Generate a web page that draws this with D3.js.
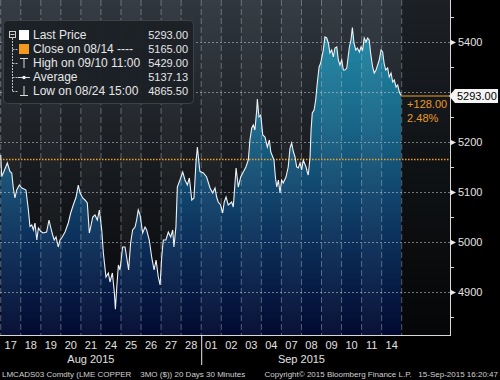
<!DOCTYPE html>
<html>
<head>
<meta charset="utf-8">
<script src="https://cdn.jsdelivr.net/npm/d3@7"></script>
<style>
    body { margin: 0; background: #000; }
    svg { display: block; }
    text { font-family: "Liberation Sans", Arial, sans-serif; }
</style>
</head>
<body>
<svg id="chart" width="500" height="380"></svg>
<script>
// LME copper 3M, 30 minute bars over 20 trading days
var days = ["17", "18", "19", "20", "21", "24", "25", "26", "27", "28",
    "01", "02", "03", "04", "07", "08", "09", "10", "11", "14"];
var months = [["Aug 2015", 4.5], ["Sep 2015", 15]];
var yTicks = [4900, 5000, 5100, 5200, 5300, 5400];
var yMinor = [4850, 4950, 5050, 5150, 5250, 5350, 5450];

// [trading day offset, price]
var prices = [
    [0, 5174], [0.05, 5131], [0.16, 5141], [0.33, 5158], [0.46, 5141], [0.55, 5138], [0.63, 5108], [0.71, 5088],
    [0.80, 5104], [0.93, 5114], [1.05, 5108], [1.16, 5106], [1.26, 5104], [1.38, 5064], [1.46, 5031], [1.55, 5034],
    [1.63, 5024], [1.71, 5038], [1.80, 5004], [1.88, 5028], [2.00, 5021], [2.12, 5018], [2.29, 5020], [2.41, 5044],
    [2.49, 5030], [2.59, 5014], [2.67, 5004], [2.76, 5010], [2.87, 4990], [2.96, 5004], [3.04, 5008], [3.21, 5020],
    [3.37, 5038], [3.49, 5058], [3.62, 5074], [3.76, 5090], [3.87, 5114], [3.96, 5098], [4.09, 5088], [4.20, 5084],
    [4.32, 5078], [4.42, 5018], [4.49, 5030], [4.59, 5050], [4.70, 5054], [4.82, 5044], [4.92, 5064], [5.04, 5024],
    [5.12, 4978], [5.25, 4930], [5.37, 4938], [5.45, 4920], [5.57, 4938], [5.67, 4898], [5.72, 4865.5], [5.79, 4910],
    [5.87, 4954], [5.95, 4944], [6.08, 4990], [6.20, 4990], [6.28, 4970], [6.38, 4944], [6.48, 4998], [6.58, 5024],
    [6.70, 5030], [6.78, 5044], [6.86, 5064], [6.95, 5054], [7.08, 5018], [7.20, 5030], [7.28, 5024], [7.41, 5004],
    [7.53, 4970], [7.65, 4944], [7.75, 4964], [7.86, 4930], [7.95, 4914], [8.03, 4970], [8.11, 5004], [8.24, 5004],
    [8.36, 5020], [8.48, 5010], [8.58, 5024], [8.64, 4990], [8.74, 5030], [8.81, 5110], [8.94, 5124], [9.08, 5140],
    [9.19, 5124], [9.31, 5114], [9.41, 5128], [9.53, 5084], [9.64, 5088], [9.74, 5160], [9.81, 5190], [9.91, 5150],
    [9.94, 5141], [10.11, 5138], [10.27, 5130], [10.44, 5108], [10.57, 5098], [10.69, 5108], [10.77, 5090], [10.85, 5080],
    [10.97, 5074], [11.07, 5058], [11.15, 5080], [11.24, 5090], [11.35, 5074], [11.52, 5080], [11.60, 5070], [11.74, 5148],
    [11.85, 5110], [11.97, 5130], [12.10, 5140], [12.23, 5150], [12.35, 5164], [12.43, 5204], [12.52, 5228], [12.60, 5234],
    [12.68, 5224], [12.77, 5264], [12.80, 5286], [12.88, 5250], [12.97, 5254], [13.07, 5214], [13.18, 5210], [13.30, 5190],
    [13.40, 5204], [13.47, 5180], [13.57, 5170], [13.63, 5164], [13.70, 5130], [13.77, 5110], [13.85, 5124], [13.93, 5098],
    [14.01, 5124], [14.09, 5118], [14.23, 5130], [14.34, 5150], [14.43, 5188], [14.51, 5198], [14.60, 5180], [14.68, 5170],
    [14.76, 5150], [14.84, 5148], [14.93, 5158], [15.01, 5144], [15.09, 5164], [15.23, 5150], [15.29, 5140], [15.34, 5134],
    [15.43, 5170], [15.48, 5224], [15.54, 5258], [15.63, 5264], [15.71, 5284], [15.79, 5318], [15.88, 5350], [15.96, 5358],
    [16.02, 5370], [16.09, 5384], [16.17, 5410], [16.26, 5408], [16.34, 5398], [16.42, 5378], [16.51, 5384], [16.59, 5370],
    [16.67, 5388], [16.76, 5390], [16.84, 5364], [16.92, 5354], [17.01, 5364], [17.09, 5344], [17.17, 5344], [17.26, 5348],
    [17.39, 5390], [17.47, 5404], [17.54, 5429], [17.62, 5398], [17.71, 5384], [17.79, 5388], [17.89, 5380], [17.97, 5390],
    [18.05, 5384], [18.13, 5408], [18.22, 5400], [18.30, 5408], [18.38, 5404], [18.45, 5378], [18.55, 5350], [18.63, 5338],
    [18.72, 5344], [18.80, 5354], [18.88, 5364], [18.97, 5384], [19.05, 5380], [19.12, 5358], [19.20, 5344], [19.30, 5348],
    [19.38, 5330], [19.47, 5338], [19.55, 5320], [19.63, 5324], [19.72, 5310], [19.80, 5314], [19.88, 5300], [19.97, 5293]
];

var legendRows = [
    ["Last Price", "5293.00"],
    ["Close on 08/14 ----", "5165.00"],
    ["High on 09/10 11:00", "5429.00"],
    ["Average", "5137.13"],
    ["Low on 08/24 15:00", "4865.50"]
];
var lastPrice = 5293, prevClose = 5165;

var svg = d3.select("#chart"),
    plotW = 450, plotH = 335;

var x = d3.scaleLinear().domain([0, days.length]).range([0.7, 401.7]);
var y = d3.scaleLinear().domain([4814, 5484]).range([plotH, 0]);

var defs = svg.append("defs");
function vgrad(id, stops, y2) {
    var g = defs.append("linearGradient").attr("id", id)
        .attr("gradientUnits", "userSpaceOnUse")
        .attr("x1", 0).attr("x2", 0).attr("y1", 0).attr("y2", y2);
    stops.forEach(function (s) {
        g.append("stop").attr("offset", s[0]).attr("stop-color", s[1]);
    });
}
vgrad("bg", [[0, "#2f363e"], [0.55, "#15181c"], [1, "#050608"]], plotH);
vgrad("bgEmpty", [[0, "#1c2025"], [0.5, "#0f1215"], [1, "#050607"]], plotH);
vgrad("fill", [[0, "#2393ae"], [0.35, "#19698a"], [0.7, "#0c325d"], [1, "#020930"]], plotH);

var g = svg.append("g");

// backgrounds
g.append("rect").attr("x", 0).attr("y", 0).attr("width", x(days.length)).attr("height", plotH)
    .attr("fill", "url(#bg)");
g.append("rect").attr("x", x(days.length)).attr("y", 0).attr("width", plotW - x(days.length)).attr("height", plotH)
    .attr("fill", "url(#bgEmpty)");

// area under the price line
var area = d3.area()
    .x(function (d) { return x(d[0]); })
    .y0(plotH)
    .y1(function (d) { return y(d[1]); });
var line = d3.line()
    .x(function (d) { return x(d[0]); })
    .y(function (d) { return y(d[1]); });

g.append("path").datum(prices).attr("d", area).attr("fill", "url(#fill)");

// alternating day bands
g.append("g").selectAll("rect")
    .data(days.filter(function (d, i) { return i % 2 == 0; }))
    .enter().append("rect")
    .attr("x", function (d) { return x(days.indexOf(d)); })
    .attr("y", 0)
    .attr("width", x(1) - x(0))
    .attr("height", plotH)
    .attr("fill", "#fff")
    .attr("opacity", 0.035);

// grid
g.append("g").selectAll("line")
    .data(d3.range(days.length + 1))
    .enter().append("line")
    .attr("x1", function (d) { return x(d); })
    .attr("x2", function (d) { return x(d); })
    .attr("y1", 0).attr("y2", plotH)
    .attr("stroke", "#b8bec6").attr("stroke-opacity", 0.45)
    .attr("stroke-dasharray", "6,3");
g.append("g").selectAll("line")
    .data(yTicks)
    .enter().append("line")
    .attr("x1", 0).attr("x2", plotW)
    .attr("y1", function (d) { return y(d) + 0.5; })
    .attr("y2", function (d) { return y(d) + 0.5; })
    .attr("stroke", "#c8ccd2").attr("stroke-opacity", 0.55)
    .attr("stroke-dasharray", "2,2");

// previous close (dotted orange)
g.append("line")
    .attr("x1", 0).attr("x2", plotW)
    .attr("y1", y(prevClose)).attr("y2", y(prevClose))
    .attr("stroke", "#f0a020").attr("stroke-width", 1.5)
    .attr("stroke-dasharray", "1.5,1.5");

// price line
g.append("path").datum(prices).attr("d", line)
    .attr("fill", "none").attr("stroke", "#eef2f5").attr("stroke-width", 1.1);

// last price marker
var lastX = x(prices[prices.length - 1][0]);
g.append("line")
    .attr("x1", lastX).attr("x2", plotW)
    .attr("y1", y(lastPrice) + 0.5).attr("y2", y(lastPrice) + 0.5)
    .attr("stroke", "#f0a020").attr("stroke-width", 1);
g.append("text").attr("x", lastX + 6).attr("y", y(lastPrice) + 12)
    .attr("fill", "#e89a28").attr("font-size", 11)
    .text("+" + (lastPrice - prevClose).toFixed(2));
g.append("text").attr("x", lastX + 6).attr("y", y(lastPrice) + 26)
    .attr("fill", "#e89a28").attr("font-size", 11)
    .text(((lastPrice - prevClose) / prevClose * 100).toFixed(2) + "%");

// axes
g.append("line").attr("x1", plotW + 0.5).attr("x2", plotW + 0.5).attr("y1", 0).attr("y2", plotH + 1)
    .attr("stroke", "#d8d8d8");
g.append("line").attr("x1", 0).attr("x2", plotW + 1).attr("y1", plotH + 0.5).attr("y2", plotH + 0.5)
    .attr("stroke", "#d8d8d8");

g.append("g").selectAll("line")
    .data(yMinor)
    .enter().append("line")
    .attr("x1", plotW).attr("x2", plotW + 4)
    .attr("y1", function (d) { return y(d) + 0.5; })
    .attr("y2", function (d) { return y(d) + 0.5; })
    .attr("stroke", "#d8d8d8");

// tick labels hidden under the last price tag are left out, as on the terminal
var yt = g.append("g").selectAll("g")
    .data(yTicks.filter(function (d) { return Math.abs(y(d) - y(lastPrice)) > 12; }))
    .enter().append("g")
    .attr("transform", function (d) { return "translate(" + plotW + "," + (y(d) + 0.5) + ")"; });
yt.append("path").attr("d", "M0,-3L6,0L0,3Z").attr("fill", "#e8e8e8");
yt.append("text").attr("x", 8).attr("dy", "0.35em")
    .attr("fill", "#e0e0e0").attr("font-size", 11)
    .text(function (d) { return d; });

// last price tag
var tagY = y(lastPrice) + 0.5;
g.append("path")
    .attr("d", "M" + (plotW - 1) + "," + tagY + "L" + (plotW + 5) + "," + (tagY - 7) + "L498," + (tagY - 7) +
        "L498," + (tagY + 7) + "L" + (plotW + 5) + "," + (tagY + 7) + "Z")
    .attr("fill", "#f4f4f4");
g.append("text").attr("x", plotW + 7).attr("y", tagY).attr("dy", "0.35em")
    .attr("fill", "#000").attr("font-size", 11)
    .text(lastPrice.toFixed(2));

// x labels
g.append("g").selectAll("text")
    .data(days)
    .enter().append("text")
    .attr("x", function (d, i) { return x(i + 0.5); })
    .attr("y", 349)
    .attr("text-anchor", "middle")
    .attr("fill", "#e0e0e0").attr("font-size", 11)
    .text(function (d) { return d; });
g.append("line").attr("x1", x(10) + 0.5).attr("x2", x(10) + 0.5).attr("y1", plotH).attr("y2", 365)
    .attr("stroke", "#e8e8e8");
g.append("g").selectAll("text")
    .data(months)
    .enter().append("text")
    .attr("x", function (d) { return x(d[1]); })
    .attr("y", 363)
    .attr("text-anchor", "middle")
    .attr("fill", "#e0e0e0").attr("font-size", 11)
    .text(function (d) { return d[0]; });

// footer
svg.append("text").attr("x", 2).attr("y", 377)
    .attr("fill", "#d0d0d0").attr("font-size", 8)
    .attr("xml:space", "preserve")
    .text("LMCADS03 Comdty (LME COPPER    3MO ($)) 20 Days 30 Minutes");
svg.append("text").attr("x", 498).attr("y", 377).attr("text-anchor", "end")
    .attr("fill", "#d0d0d0").attr("font-size", 8)
    .attr("xml:space", "preserve")
    .text("Copyright\u00a9 2015 Bloomberg Finance L.P.   15-Sep-2015 16:20:47");

// legend
var lg = svg.append("g");
lg.append("rect").attr("x", 3.5).attr("y", 20.5).attr("width", 190).attr("height", 83).attr("rx", 4)
    .attr("fill", "#1b2025").attr("fill-opacity", 0.96)
    .attr("stroke", "#3c4248");
var rowY = function (i) { return 35 + i * 14; };

lg.append("rect").attr("x", 9.5).attr("y", 31.5).attr("width", 6).attr("height", 6)
    .attr("fill", "none").attr("stroke", "#cfcfcf");
lg.append("line").attr("x1", 10.5).attr("x2", 14.5).attr("y1", 34.5).attr("y2", 34.5).attr("stroke", "#cfcfcf");
lg.append("line").attr("x1", 12.5).attr("x2", 12.5).attr("y1", 38).attr("y2", rowY(4) + 1)
    .attr("stroke", "#bbb").attr("stroke-dasharray", "2,1");
lg.append("g").selectAll("line")
    .data(d3.range(1, legendRows.length))
    .enter().append("line")
    .attr("x1", 12.5).attr("x2", 18)
    .attr("y1", function (d) { return rowY(d) + 0.5; })
    .attr("y2", function (d) { return rowY(d) + 0.5; })
    .attr("stroke", "#bbb").attr("stroke-dasharray", "2,1");

lg.append("rect").attr("x", 19).attr("y", rowY(0) - 5).attr("width", 10).attr("height", 10).attr("fill", "#fff");
lg.append("rect").attr("x", 19).attr("y", rowY(1) - 5).attr("width", 10).attr("height", 10).attr("fill", "#f39a1e");
lg.append("path").attr("d", "M20," + (rowY(2) - 4.5) + "H28M24," + (rowY(2) - 4.5) + "V" + (rowY(2) + 5))
    .attr("stroke", "#ddd").attr("fill", "none");
lg.append("path").attr("d", "M18," + (rowY(3) + 0.5) + "H30")
    .attr("stroke", "#ddd").attr("fill", "none");
lg.append("circle").attr("cx", 24).attr("cy", rowY(3) + 0.5).attr("r", 1.8).attr("fill", "#eee");
lg.append("path").attr("d", "M24," + (rowY(4) - 5) + "V" + (rowY(4) + 4.5) + "M20," + (rowY(4) + 4.5) + "H28")
    .attr("stroke", "#ddd").attr("fill", "none");

lg.append("g").selectAll("text")
    .data(legendRows)
    .enter().append("text")
    .attr("x", 33)
    .attr("y", function (d, i) { return rowY(i); })
    .attr("dy", "0.35em")
    .attr("fill", "#e6e6e6").attr("font-size", 12)
    .text(function (d) { return d[0]; });
lg.append("g").selectAll("text")
    .data(legendRows)
    .enter().append("text")
    .attr("x", 188)
    .attr("y", function (d, i) { return rowY(i); })
    .attr("dy", "0.35em")
    .attr("text-anchor", "end")
    .attr("fill", "#e6e6e6").attr("font-size", 11)
    .text(function (d) { return d[1]; });
</script>
</body>
</html>
